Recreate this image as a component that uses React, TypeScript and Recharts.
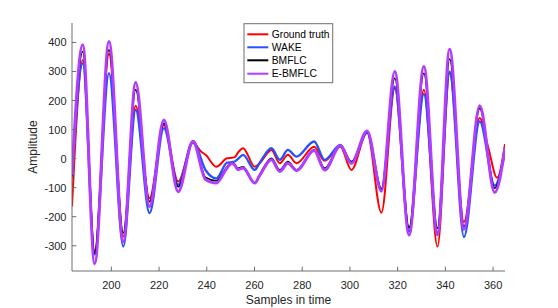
import React from 'react';
import { LineChart, Line, XAxis, YAxis } from 'recharts';

const sampleX = [183.5, 188, 193, 199, 205, 210.2, 216, 222, 228, 234.2, 237.7, 239.5, 244, 248.5, 250.5, 251.7, 253, 255.2, 260.1, 262.2, 267.1, 270.6, 274, 277.6, 285, 289.4, 296, 300.6, 307.2, 313.2, 318.8, 324.8, 331, 336.7, 341.8, 347.8, 354.4, 357.9, 360.7, 361.7, 365];

const groundTruth = [-165, 340, -318, 360, -268, 182, -137, 116, -79, 54, 24, 13, -28, 1, 3, 5, 20, 36, -28, -16, 30, -16, 13, -16, 41, -7, 41, -39, 90, -186, 242, -250, 237, -303, 295, -218, 140, 41, null, -66, 50];
const wake = [-68, 328, -330, 294, -303, 168, -188, 105, -90, 60, null, -40, -68, -14, -12, -10, -2, 13, -39, -14, 36, -4, 30, 7, 59, -4, 47, -16, 90, -105, 248, -250, 222, -255, 300, -270, 128, null, -93, null, 24];
const bmflc = [-60, 369, -326, 375, -256, 237, -148, 122, -97, 59, null, -65, -76, -28, -14, -20, -33, -28, -85, -55, 1, -39, -10, -39, 30, -33, 44, -10, 92, -105, 277, -237, 294, -240, 343, -234, 173, null, -102, null, 35];
const eBmflc = [-56, 392, -362, 403, -286, 262, -165, 133, -114, 59, null, -72, -84, -32, -17, -22, -38, -32, -84, -58, -4, -44, -16, -41, 28, -39, 44, -16, 95, -112, 300, -263, 317, -262, 377, -243, 182, null, -117, null, 38];

const xTicks = [200, 220, 240, 260, 280, 300, 320, 340, 360];
const yTicks = [-300, -200, -100, 0, 100, 200, 300, 400];
const seriesNames = ['Ground truth', 'WAKE', 'BMFLC', 'E-BMFLC'];
const seriesKeys = ['gt', 'wake', 'bmflc', 'ebmflc'];
const seriesColors = ['#ff0000', '#2850ff', '#000000', '#b23cff'];
const seriesWidths = [2, 2.3, 1.6, 3];

const data = sampleX.map((x, i) => ({
  x,
  gt: groundTruth[i],
  wake: wake[i],
  bmflc: bmflc[i],
  ebmflc: eBmflc[i],
}));

const AX = '#6e6e6e';
const TXT = '#262626';
const FONT = '"Liberation Sans", Arial, sans-serif';
const TL = 4.3;

const BottomTick = (p: any) => (
  <g>
    <line x1={p.x} x2={p.x} y1={p.y} y2={p.y - TL} stroke={AX} strokeWidth={1} />
    <text x={p.x} y={p.y + 18} textAnchor="middle" fontSize={11} fill={TXT} fontFamily={FONT}>
      {p.payload.value}
    </text>
  </g>
);
const TopTick = (p: any) => (
  <line x1={p.x} x2={p.x} y1={p.y} y2={p.y + TL} stroke={AX} strokeWidth={1} />
);
const LeftTick = (p: any) => (
  <g>
    <line x1={p.x} x2={p.x + TL} y1={p.y} y2={p.y} stroke={AX} strokeWidth={1} />
    <text x={p.x - 5.5} y={p.y + 4} textAnchor="end" fontSize={11} fill={TXT} fontFamily={FONT}>
      {p.payload.value}
    </text>
  </g>
);
const RightTick = (p: any) => (
  <line x1={p.x} x2={p.x - TL} y1={p.y} y2={p.y} stroke={AX} strokeWidth={1} />
);

export default function App() {
  const legX = 244;
  const legY = 23.7;
  const rows = [10.6, 23.6, 36.6, 50];
  return (
    <div style={{ position: 'absolute', left: 0, top: 0, width: 558, height: 308, background: '#fff' }}>
      <LineChart width={558} height={308} data={data} margin={{ top: 23, right: 53, bottom: 0, left: 0 }}>
        <XAxis
          xAxisId="b"
          dataKey="x"
          type="number"
          domain={[183.5, 365]}
          ticks={xTicks}
          interval={0}
          height={37}
          tickSize={0}
          tickMargin={0}
          tickLine={false}
          axisLine={{ stroke: AX, strokeWidth: 1 }}
          tick={BottomTick}
          allowDataOverflow
        />
        <XAxis
          xAxisId="t"
          orientation="top"
          dataKey="x"
          type="number"
          domain={[183.5, 365]}
          ticks={xTicks}
          interval={0}
          height={0}
          tickSize={0}
          tickMargin={0}
          tickLine={false}
          axisLine={{ stroke: AX, strokeWidth: 1 }}
          tick={TopTick}
          allowDataOverflow
        />
        <YAxis
          yAxisId="l"
          type="number"
          domain={[-387, 467]}
          ticks={yTicks}
          interval={0}
          width={72}
          tickSize={0}
          tickMargin={0}
          tickLine={false}
          axisLine={{ stroke: AX, strokeWidth: 1 }}
          tick={LeftTick}
          allowDataOverflow
        />
        <YAxis
          yAxisId="r"
          orientation="right"
          type="number"
          domain={[-387, 467]}
          ticks={yTicks}
          interval={0}
          width={0}
          tickSize={0}
          tickMargin={0}
          tickLine={false}
          axisLine={{ stroke: AX, strokeWidth: 1 }}
          tick={RightTick}
          allowDataOverflow
        />
        {seriesKeys.map((k, i) => (
          <Line
            key={k}
            xAxisId="b"
            yAxisId="l"
            dataKey={k}
            name={seriesNames[i]}
            type="monotone"
            stroke={seriesColors[i]}
            strokeWidth={seriesWidths[i]}
            dot={false}
            activeDot={false}
            connectNulls
            isAnimationActive={false}
          />
        ))}
      </LineChart>
      <svg
        width={558}
        height={308}
        style={{ position: 'absolute', left: 0, top: 0, pointerEvents: 'none' }}
      >
        <text x={288.5} y={304} textAnchor="middle" fontSize={12} fill={TXT} fontFamily={FONT}>
          Samples in time
        </text>
        <text
          x={36.6}
          y={147}
          textAnchor="middle"
          fontSize={12}
          fill={TXT}
          fontFamily={FONT}
          transform="rotate(-90 36.6 147)"
        >
          Amplitude
        </text>
        <rect x={legX} y={legY} width={88.7} height={59} fill="#fff" stroke={AX} strokeWidth={1} />
        {seriesNames.map((n, i) => (
          <g key={n}>
            <line
              x1={legX + 3.3}
              x2={legX + 24.3}
              y1={legY + rows[i]}
              y2={legY + rows[i]}
              stroke={seriesColors[i]}
              strokeWidth={2}
            />
            <text x={legX + 27.7} y={legY + rows[i] + 3.7} fontSize={10.3} fill="#000" fontFamily={FONT}>
              {n}
            </text>
          </g>
        ))}
      </svg>
    </div>
  );
}
